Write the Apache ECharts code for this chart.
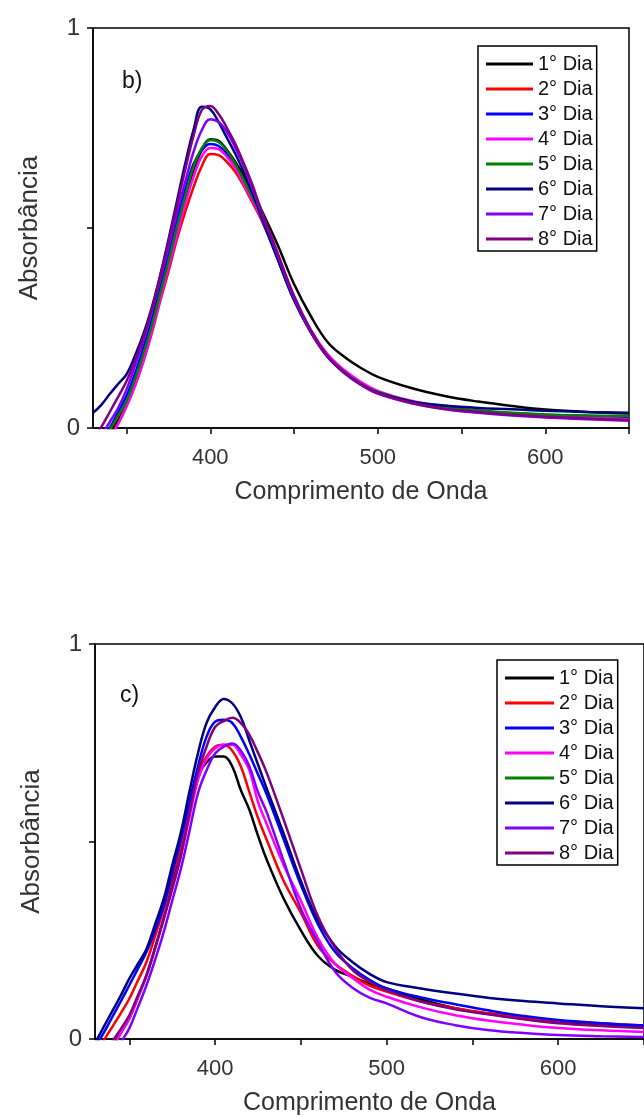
<!DOCTYPE html>
<html>
<head>
<meta charset="utf-8">
<title>Absorbância</title>
<script src="https://cdn.jsdelivr.net/npm/echarts@6/dist/echarts.min.js"></script>
<style>
html, body { margin: 0; padding: 0; background: #fff; }
#main { width: 644px; height: 1117px; }
</style>
</head>
<body>
<div id="main"></div>
<script>
// comprimento de onda (nm)
var waves = [330, 335, 340, 345, 350, 355, 360, 365, 370, 375, 380, 385, 390, 395, 400, 405, 410, 415, 420, 425, 430, 440, 450, 460, 470, 480, 490, 500, 520, 540, 560, 580, 600, 625, 650];
var names = ['1° Dia', '2° Dia', '3° Dia', '4° Dia', '5° Dia', '6° Dia', '7° Dia', '8° Dia'];
var colors = ['#000000', '#ff0000', '#0000ff', '#ff00ff', '#008000', '#000080', '#8000ff', '#800080'];
var xTicks = [350, 400, 450, 500, 550, 600, 650];
var xLabels = [400, 500, 600];

// painel b)
var b1 = [-0.08, -0.05, -0.015, 0.02, 0.06, 0.115, 0.175, 0.25, 0.33, 0.41, 0.49, 0.57, 0.645, 0.695, 0.722, 0.718, 0.695, 0.665, 0.63, 0.59, 0.55, 0.46, 0.36, 0.28, 0.215, 0.178, 0.15, 0.128, 0.1, 0.08, 0.066, 0.055, 0.046, 0.04, 0.036];
var b2 = [-0.1, -0.06, -0.025, 0.012, 0.055, 0.105, 0.165, 0.235, 0.315, 0.39, 0.47, 0.54, 0.602, 0.655, 0.685, 0.682, 0.665, 0.64, 0.605, 0.565, 0.525, 0.43, 0.325, 0.242, 0.18, 0.14, 0.11, 0.09, 0.066, 0.052, 0.043, 0.037, 0.033, 0.03, 0.028];
var b3 = [-0.06, -0.03, 0.0, 0.04, 0.08, 0.135, 0.2, 0.27, 0.35, 0.435, 0.52, 0.595, 0.66, 0.695, 0.71, 0.705, 0.685, 0.655, 0.615, 0.575, 0.53, 0.425, 0.32, 0.24, 0.178, 0.138, 0.108, 0.087, 0.064, 0.05, 0.042, 0.036, 0.032, 0.03, 0.028];
var b4 = [-0.1, -0.06, -0.025, 0.01, 0.054, 0.105, 0.167, 0.24, 0.32, 0.4, 0.48, 0.56, 0.628, 0.68, 0.7, 0.697, 0.678, 0.65, 0.61, 0.57, 0.53, 0.435, 0.33, 0.245, 0.185, 0.145, 0.115, 0.093, 0.068, 0.053, 0.044, 0.036, 0.03, 0.026, 0.022];
var b5 = [-0.08, -0.04, -0.005, 0.03, 0.067, 0.122, 0.184, 0.255, 0.335, 0.415, 0.5, 0.58, 0.653, 0.7, 0.72, 0.715, 0.693, 0.66, 0.62, 0.578, 0.535, 0.43, 0.325, 0.24, 0.18, 0.14, 0.11, 0.09, 0.066, 0.052, 0.044, 0.038, 0.034, 0.031, 0.03];
var b6 = [0.038, 0.058, 0.085, 0.11, 0.134, 0.18, 0.234, 0.3, 0.38, 0.47, 0.565, 0.66, 0.745, 0.803, 0.797, 0.765, 0.725, 0.685, 0.64, 0.59, 0.535, 0.425, 0.32, 0.24, 0.178, 0.138, 0.108, 0.088, 0.066, 0.056, 0.05, 0.047, 0.043, 0.04, 0.038];
var b7 = [-0.06, -0.02, 0.015, 0.05, 0.096, 0.155, 0.218, 0.29, 0.368, 0.45, 0.536, 0.615, 0.69, 0.745, 0.772, 0.765, 0.74, 0.7, 0.655, 0.6, 0.545, 0.435, 0.325, 0.24, 0.178, 0.138, 0.108, 0.086, 0.062, 0.047, 0.038, 0.031, 0.026, 0.022, 0.018];
var b8 = [-0.03, 0.003, 0.04, 0.078, 0.117, 0.168, 0.226, 0.295, 0.377, 0.465, 0.555, 0.645, 0.73, 0.795, 0.805, 0.785, 0.75, 0.71, 0.662, 0.61, 0.55, 0.44, 0.33, 0.245, 0.18, 0.14, 0.11, 0.088, 0.063, 0.048, 0.04, 0.033, 0.028, 0.024, 0.02];

// painel c)
var c1 = [-0.1, -0.06, -0.02, 0.015, 0.052, 0.105, 0.161, 0.23, 0.304, 0.39, 0.48, 0.575, 0.664, 0.7, 0.715, 0.715, 0.69, 0.63, 0.58, 0.515, 0.455, 0.355, 0.275, 0.21, 0.175, 0.158, 0.14, 0.128, 0.1, 0.078, 0.063, 0.052, 0.044, 0.036, 0.03];
var c2 = [-0.05, -0.005, 0.03, 0.065, 0.102, 0.148, 0.195, 0.26, 0.329, 0.41, 0.488, 0.58, 0.673, 0.715, 0.74, 0.745, 0.73, 0.69, 0.625, 0.56, 0.505, 0.4, 0.32, 0.235, 0.19, 0.16, 0.135, 0.12, 0.095, 0.078, 0.065, 0.054, 0.046, 0.04, 0.034];
var c3 = [-0.02, 0.015, 0.055, 0.095, 0.136, 0.178, 0.22, 0.275, 0.337, 0.42, 0.505, 0.6, 0.69, 0.765, 0.803, 0.808, 0.8, 0.765, 0.72, 0.67, 0.62, 0.505, 0.39, 0.29, 0.22, 0.18, 0.15, 0.128, 0.105, 0.088, 0.072, 0.058, 0.048, 0.04, 0.034];
var c4 = [-0.12, -0.07, -0.03, 0.015, 0.052, 0.105, 0.161, 0.23, 0.304, 0.38, 0.463, 0.56, 0.656, 0.71, 0.736, 0.745, 0.745, 0.72, 0.68, 0.6, 0.545, 0.44, 0.35, 0.255, 0.19, 0.155, 0.125, 0.107, 0.08, 0.06, 0.046, 0.036, 0.028, 0.022, 0.018];
var c5 = []; // 5° Dia não aparece no gráfico c)
var c6 = [-0.01, 0.03, 0.07, 0.11, 0.153, 0.19, 0.228, 0.29, 0.354, 0.44, 0.522, 0.625, 0.723, 0.8, 0.84, 0.861, 0.85, 0.815, 0.755, 0.695, 0.635, 0.52, 0.4, 0.3, 0.235, 0.195, 0.165, 0.144, 0.128, 0.115, 0.104, 0.096, 0.09, 0.083, 0.078];
var c7 = [-0.15, -0.1, -0.06, -0.01, 0.027, 0.08, 0.136, 0.2, 0.27, 0.35, 0.43, 0.525, 0.622, 0.68, 0.723, 0.74, 0.748, 0.73, 0.69, 0.625, 0.575, 0.45, 0.33, 0.245, 0.17, 0.13, 0.105, 0.09, 0.055, 0.035, 0.022, 0.015, 0.01, 0.007, 0.005];
var c8 = [-0.09, -0.05, -0.008, 0.025, 0.06, 0.11, 0.161, 0.23, 0.304, 0.38, 0.463, 0.57, 0.673, 0.74, 0.79, 0.805, 0.813, 0.8, 0.77, 0.725, 0.675, 0.555, 0.43, 0.31, 0.23, 0.175, 0.145, 0.123, 0.095, 0.075, 0.062, 0.05, 0.04, 0.033, 0.028];

var panelB = [b1, b2, b3, b4, b5, b6, b7, b8];
var panelC = [c1, c2, c3, c4, c5, c6, c7, c8];

var font = 'Liberation Sans';

function pairs(ys) {
    return ys.map(function(y, i) { return [waves[i], y]; });
}

function makeX(idx) {
    return {
        type: 'value',
        gridIndex: idx,
        min: 330,
        max: 650,
        name: 'Comprimento de Onda',
        nameLocation: 'middle',
        nameGap: 52,
        nameTextStyle: { fontFamily: font, fontSize: 25, color: '#333' },
        axisLine: { onZero: false, lineStyle: { color: '#000', width: 1.5 } },
        axisTick: { show: true, customValues: xTicks, length: 6, inside: false, lineStyle: { color: '#000', width: 1.5 } },
        axisLabel: { customValues: xLabels, fontFamily: font, fontSize: 22, color: '#333', margin: 19 },
        splitLine: { show: false }
    };
}

function makeY(idx) {
    return {
        type: 'value',
        gridIndex: idx,
        min: 0,
        max: 1,
        interval: 0.5,
        name: 'Absorbância',
        nameLocation: 'middle',
        nameGap: 50,
        nameTextStyle: { fontFamily: font, fontSize: 26, color: '#333' },
        axisLine: { show: true, lineStyle: { color: '#000', width: 1.5 } },
        axisTick: { show: true, length: 6, lineStyle: { color: '#000', width: 1.5 } },
        axisLabel: {
            fontFamily: font, fontSize: 24, color: '#333', margin: 13,
            formatter: function(v) { return v === 0.5 ? '' : String(v); }
        },
        splitLine: { show: false }
    };
}

function makeLegend(left, top, itemWidth) {
    return {
        orient: 'vertical',
        left: left,
        top: top,
        data: names,
        icon: 'rect',
        itemWidth: itemWidth,
        itemHeight: 3,
        itemGap: 5,
        padding: [8, 4, 2, 8],
        borderColor: '#000',
        borderWidth: 1.5,
        backgroundColor: '#fff',
        selectedMode: false,
        textStyle: { fontFamily: font, fontSize: 20, color: '#111', lineHeight: 20 }
    };
}

var series = [];
[panelB, panelC].forEach(function(panel, p) {
    panel.forEach(function(ys, i) {
        series.push({
            name: names[i],
            type: 'line',
            xAxisIndex: p,
            yAxisIndex: p,
            data: pairs(ys),
            smooth: 0.4,
            symbol: 'none',
            clip: true,
            lineStyle: { color: colors[i], width: 2.5 },
            itemStyle: { color: colors[i] }
        });
    });
});

var myChart = echarts.init(document.getElementById('main'));

var option = {
    animation: false,
    backgroundColor: '#fff',
    grid: [
        { left: 93, top: 28, width: 536, height: 400, show: true, borderColor: '#000', borderWidth: 1.5 },
        { left: 95, top: 644, width: 560, height: 397, show: true, borderColor: '#000', borderWidth: 1.5 }
    ],
    xAxis: [makeX(0), makeX(1)],
    yAxis: [makeY(0), makeY(1)],
    legend: [makeLegend(478, 46, 47), makeLegend(497, 660, 49)],
    graphic: [
        { type: 'text', left: 122, top: 70, style: { text: 'b)', font: '23px "Liberation Sans"', fill: '#111' } },
        { type: 'text', left: 120, top: 684, style: { text: 'c)', font: '23px "Liberation Sans"', fill: '#111' } }
    ],
    series: series
};

myChart.setOption(option);
</script>
</body>
</html>
